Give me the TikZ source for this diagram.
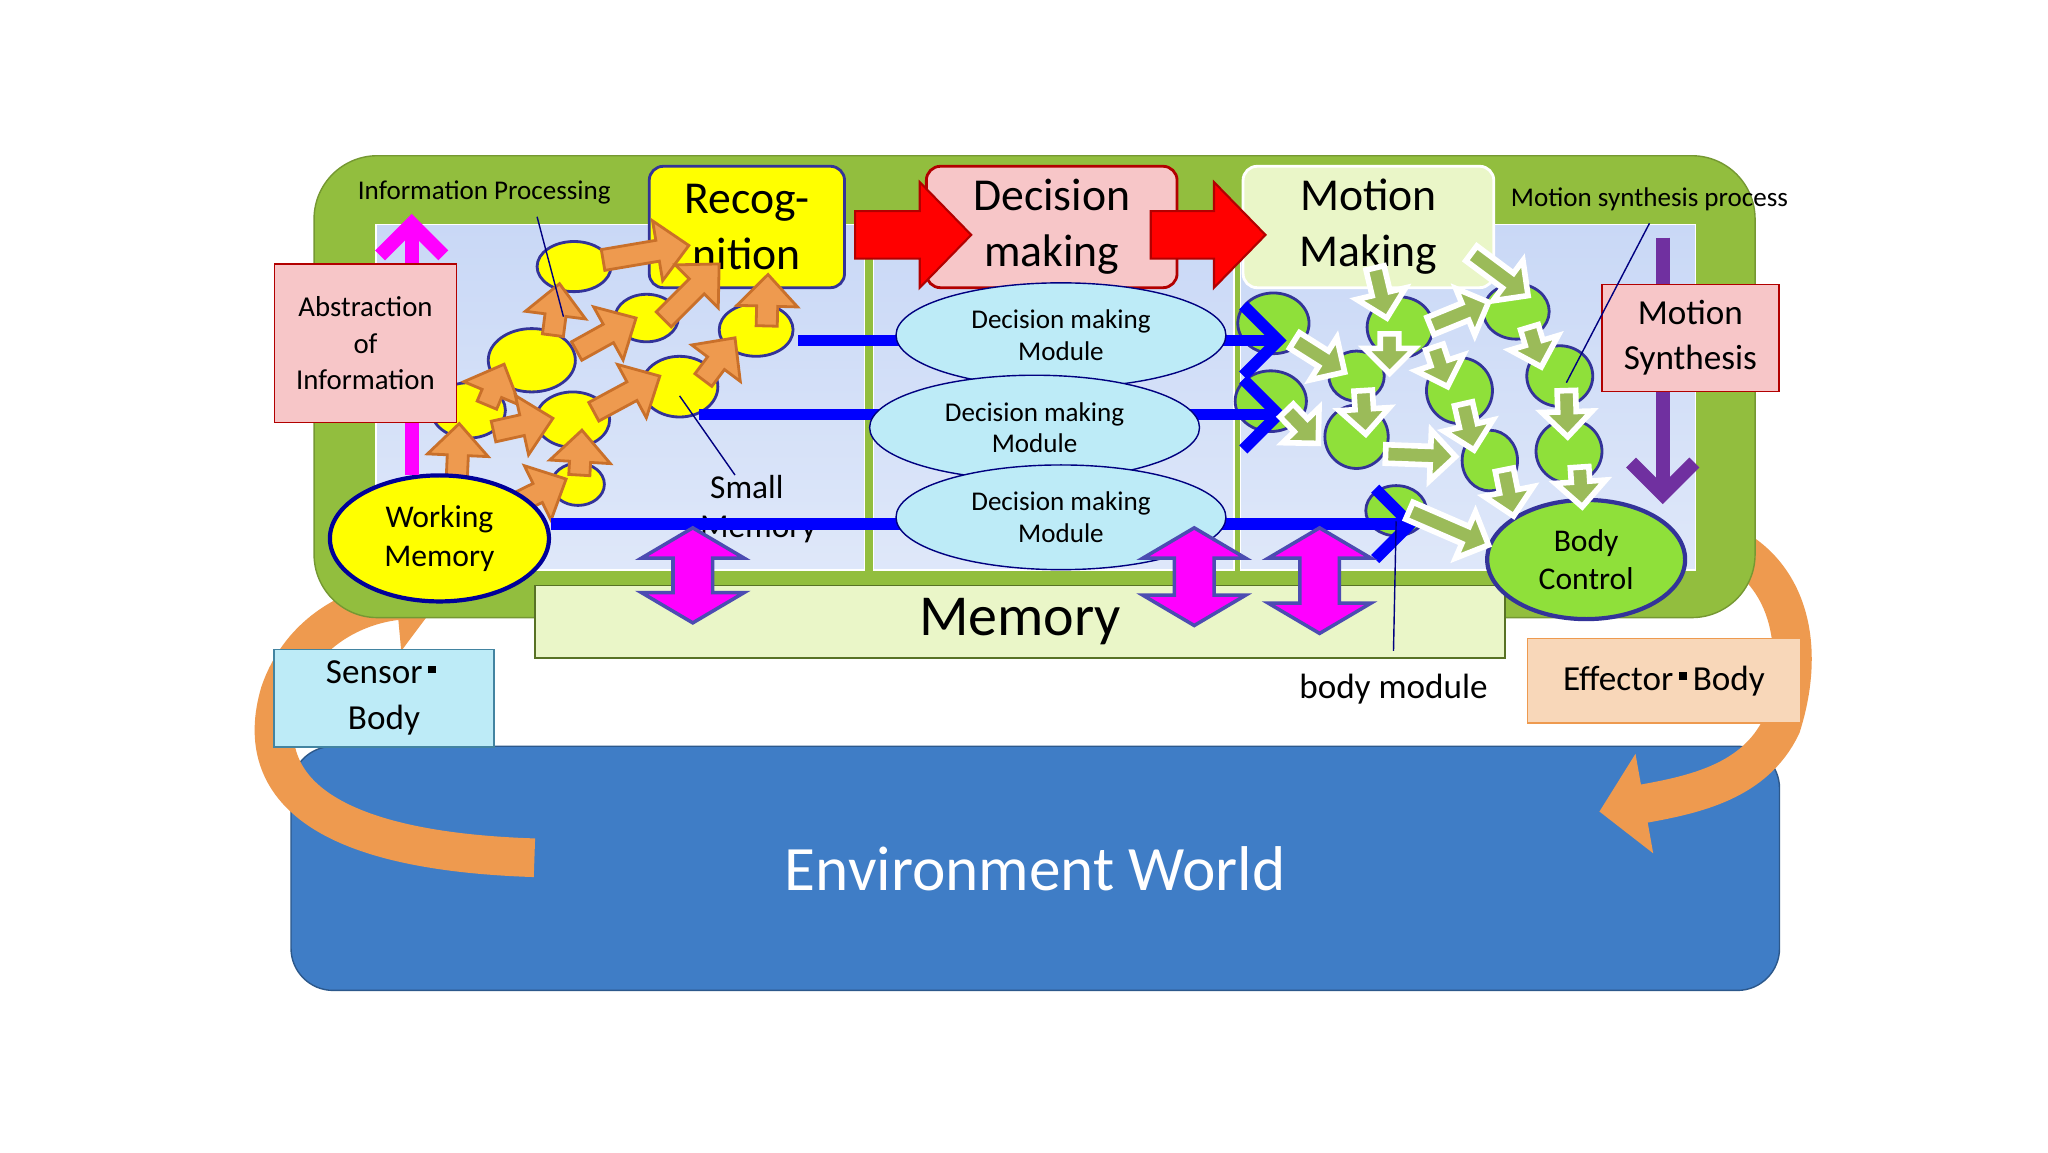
\documentclass[tikz,border=0pt]{standalone}
\usepackage{fontspec}
\setmainfont{Carlito}
\usetikzlibrary{shapes.geometric,arrows.meta}
\newcommand\mysq{\,\raisebox{0.3em}{\rule{0.22em}{0.22em}}\,}
\newcommand\setdir[4]{\pgfmathsetmacro\ax{#1}\pgfmathsetmacro\ay{#2}%
 \pgfmathsetmacro\dx{#3-#1}\pgfmathsetmacro\dy{#4-#2}%
 \pgfmathsetmacro\LL{veclen(\dx,\dy)}\pgfmathsetmacro\cs{\dx/\LL}\pgfmathsetmacro\sn{\dy/\LL}}
\newcommand\PP[2]{({\ax+(#1)*\cs-(#2)*\sn},{\ay+(#1)*\sn+(#2)*\cs})}
\newcommand\fatarrow[8]{\setdir{#2}{#3}{#4}{#5}%
 \draw[#1] \PP{0}{-#6} -- \PP{\LL-#8}{-#6} -- \PP{\LL-#8}{-#7} -- \PP{\LL}{0} -- \PP{\LL-#8}{#7} -- \PP{\LL-#8}{#6} -- \PP{0}{#6} -- cycle;}
\newcommand\fatdarrow[8]{\setdir{#2}{#3}{#4}{#5}%
 \draw[#1] \PP{#8}{-#6} -- \PP{\LL-#8}{-#6} -- \PP{\LL-#8}{-#7} -- \PP{\LL}{0} -- \PP{\LL-#8}{#7} -- \PP{\LL-#8}{#6} -- \PP{#8}{#6} -- \PP{#8}{#7} -- \PP{0}{0} -- \PP{#8}{-#7} -- cycle;}
\definecolor{olive}{HTML}{92BE3E}
\definecolor{panel}{HTML}{C9D8F6}
\definecolor{pinkb}{HTML}{F7C6C8}
\definecolor{yel}{HTML}{FFFF00}
\definecolor{lgreen}{HTML}{EAF6C8}
\definecolor{env}{HTML}{3F7DC6}
\definecolor{ora}{HTML}{EE9A4F}
\definecolor{orad}{HTML}{C9702A}
\definecolor{grn}{HTML}{8FE03A}
\definecolor{garr}{HTML}{9BBB59}
\definecolor{cyanm}{HTML}{BDEBF7}
\definecolor{mag}{HTML}{FF00FF}
\definecolor{purp}{HTML}{7030A0}
\tikzset{
 box/.style={line width=0.8pt, align=center, inner sep=2pt, rounded corners=4pt, minimum height=92*0.0132cm, font=\fontsize{13}{16}\selectfont},
 oarr/.style={draw=orad, fill=ora, line width=0.8pt, line join=miter},
 garrow/.style={draw=white, fill=garr, line width=1.6pt, line join=miter},
 marr/.style={draw=blue!40!gray, fill=mag, line width=1pt, line join=miter},
 barr/.style={draw=blue, line width=3.3pt, -{Straight Barb[length=10pt,width=20pt]}},
 yell/.style={fill=yel, draw=blue!50!gray!80!black, line width=0.8pt},
 gell/.style={fill=grn, draw=blue!50!gray!80!black, line width=0.8pt},
 lead/.style={draw=blue!50!black, line width=0.4pt},
 redarr/.style={draw=red!70!black, fill=red, line width=0.6pt},
}
\begin{document}
\begin{tikzpicture}[x=0.0132cm,y=-0.0132cm]
\useasboundingbox (0,0) rectangle (1552,873);
\fill[white] (0,0) rectangle (1552,873);
% environment
\node[fill=env, draw=env!70!black, rounded corners=12pt, minimum width=1128*0.0132cm, minimum height=185*0.0132cm, anchor=north west, text=white, font=\fontsize{18}{20}\selectfont] (env) at (220,565) {Environment World};
% orange curved arrows
\coordinate (lt) at (405,650); \coordinate (lh) at (335,452);
\draw[ora, line width=11pt, -{Triangle[length=13pt,width=28pt]}] (lt) .. controls (250,645) and (190,600) .. (212,525) .. controls (228,478) and (270,458) .. (lh);
\coordinate (rt) at (1288,405); \coordinate (rh) at (1212,615);
\draw[ora, line width=11pt, -{Triangle[length=13pt,width=28pt]}] (rt) .. controls (1350,420) and (1372,480) .. (1350,550) .. controls (1330,592) and (1285,602) .. (rh);
% main green
\draw[olive!80!black, fill=olive, rounded corners=18pt] (238,118) rectangle (1330,468);
\foreach \a/\b in {285/655,662/935,940/1285}
  \shade[top color=panel, bottom color=panel!60!white, draw=white] (\a,170) rectangle (\b,432);
% memory
\node[fill=lgreen, draw=olive!60!black, minimum width=735*0.0132cm, minimum height=55*0.0132cm, anchor=north west, font=\fontsize{16.5}{18}\selectfont] (mem) at (405,443) {Memory};
% small memory text
\node[font=\fontsize{9.5}{11}\selectfont, align=center] (small) at (566,386) {Small\\\ \ \ Memory};
% yellow ellipses
\foreach \x/\y/\rx/\ry in {435/202/28/19, 403/273/33/24, 490/241/24/18, 573/250/28/20, 355/311/28/21, 434/318/28/21, 515/293/29/23, 438/367/20/16}
  \draw[yell] (\x,\y) ellipse [x radius=\rx, y radius=\ry];
% green ellipses
\foreach \x/\y/\rx/\ry in {965/245/27/23, 963/304/27/23, 1028/285/21/19, 1028/331/24/24, 1061/248/25/23, 1106/296/25/25, 1129/349/21/23, 1149/236/25/21, 1182/285/25/23, 1189/342/25/24, 1058/387/23/19}
  \draw[gell] (\x,\y) ellipse [x radius=\rx, y radius=\ry];
% titles
\node[box, fill=yel, draw=blue!50!gray!80!black, minimum width=148*0.0132cm] (rec) at (566,172) {Recog-\\nition};
\node[box, fill=pinkb, draw=red!70!black, minimum width=190*0.0132cm] (dec) at (797,172) {Decision\\making};
\node[box, fill=lgreen, draw=white, minimum width=190*0.0132cm] (mot) at (1037,172) {Motion\\Making};
% red arrows
\draw[redarr] (648,160) -- (697,160) -- (697,138) -- (736,178) -- (697,218) -- (697,196) -- (648,196) -- cycle;
\draw[redarr] (872,160) -- (920,160) -- (920,138) -- (959,178) -- (920,218) -- (920,196) -- (872,196) -- cycle;
% orange arrows
\foreach \a/\b/\c/\d in {457/197/522/186, 419/254/424/215, 437/266/482/241, 503/242/545/200, 581/247/582/208, 369/307/382/276, 374/327/419/317, 450/312/500/285, 533/288/557/256, 346/366/348/321, 382/386/429/363, 439/360/441/326}
  {\fatarrow{oarr}{\a}{\b}{\c}{\d}{8}{23}{24}}
% working memory / body control
\node[ellipse, fill=yel, draw=blue!60!black, line width=1.2pt, minimum width=166*0.0132cm, minimum height=90*0.0132cm, align=center, font=\fontsize{9}{11}\selectfont] (wm) at (333,408) {Working\\Memory};
\node[ellipse, fill=grn, draw=blue!50!gray!80!black, line width=1.2pt, minimum width=150*0.0132cm, minimum height=90*0.0132cm, align=center, font=\fontsize{9}{11}\selectfont] (bc) at (1202,424) {Body\\Control};
% blue arrows
\coordinate (b1s) at (605,258); \coordinate (b1e) at (975,258);
\coordinate (b2s) at (530,314); \coordinate (b2e) at (975,314);
\coordinate (b3e) at (1075,397);
\draw[barr] (b1s) -- (b1e);
\draw[barr] (b2s) -- (b2e);
\draw[barr] (wm.east |- b3e) -- (b3e);
% decision modules
\foreach \n/\x/\y in {m1/804/254, m2/784/324, m3/804/392}
  \node[ellipse, fill=cyanm, draw=blue!50!black, minimum width=250*0.0132cm, minimum height=58*0.0132cm, align=center, font=\fontsize{7.7}{9}\selectfont] (\n) at (\x,\y) {Decision making\\Module};
% green arrows
\foreach \a/\b/\c/\d in {1042/203/1051/241, 1115/192/1158/224, 1084/247/1128/229, 981/258/1019/282, 1053/253/1053/283, 1087/263/1097/293, 1159/248/1168/278, 975/311/999/336, 1033/296/1035/329, 1109/306/1117/341, 1187/296/1188/331, 1050/344/1103/346, 1140/356/1147/391, 1197/354/1199/384, 1068/387/1128/413}
  {\fatarrow{garrow}{\a}{\b}{\c}{\d}{7}{19}{19}}
% magenta double arrows
\foreach \x/\t/\bb in {525/400/472, 905/400/474, 1000/400/480}
  {\fatdarrow{marr}{\x}{\t}{\x}{\bb}{15}{39}{23}}
% vertical arrows
\draw[mag, line width=4pt, -{Straight Barb[length=9pt,width=18pt]}] (312,360) -- (312,162);
\draw[purp, line width=4pt, -{Straight Barb[length=9pt,width=18pt]}] (1260,180) -- (1260,382);
% boxes
\node[fill=pinkb, draw=red!70!black, minimum width=138*0.0132cm, minimum height=120*0.0132cm, align=center, font=\fontsize{8.2}{10.5}\selectfont] (abs) at (277,260) {Abstraction\\of\\Information};
\node[fill=pinkb, draw=red!70!black, minimum width=134*0.0132cm, minimum height=81*0.0132cm, align=center, font=\fontsize{10}{13}\selectfont] (ms) at (1281,256) {Motion\\Synthesis};
\node[fill=cyanm, draw=cyan!60!black, minimum width=167*0.0132cm, minimum height=65*0.0132cm, align=center, font=\fontsize{10}{13}\selectfont] (sb) at (291,529) {Sensor\mysq\\Body};
\node[fill=ora!40!white, draw=ora, minimum width=207*0.0132cm, minimum height=64*0.0132cm, font=\fontsize{10}{13}\selectfont] (eb) at (1261,516) {Effector\mysq Body};
% labels and leaders
\node[font=\fontsize{7.7}{9}\selectfont] (ip) at (367,146) {Information Processing};
\node[font=\fontsize{7.7}{9}\selectfont] (msp) at (1250,151) {Motion synthesis process};
\node[font=\fontsize{10}{12}\selectfont] (bm) at (1056,522) {body module};
\coordinate (l1) at (427,240); \coordinate (l2) at (557,360); \coordinate (l3) at (1058,395); \coordinate (l4) at (1187,290);
\draw[lead] (ip.south) ++(40,0) -- (l1);
\draw[lead] (515,300) -- (l2);
\draw[lead] (bm.north) ++(0,-8) -- (l3);
\draw[lead] (msp.south) -- (l4);
\end{tikzpicture}
\end{document}
